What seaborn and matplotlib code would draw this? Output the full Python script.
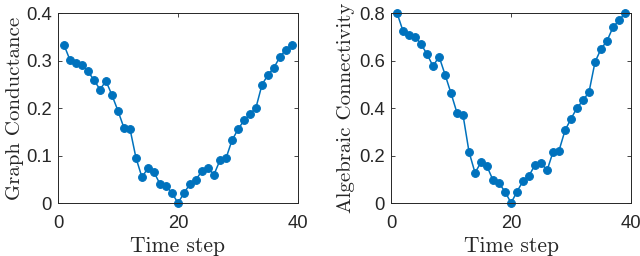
import numpy as np
import pandas as pd
import matplotlib
matplotlib.use("Agg")
import matplotlib.pyplot as plt
import seaborn as sns

time_step = list(range(1, 40))
conductance = [0.333, 0.301, 0.294, 0.291, 0.277, 0.259, 0.239, 0.257, 0.227, 0.194,
               0.158, 0.156, 0.095, 0.054, 0.074, 0.065, 0.040, 0.036, 0.021, 0.0,
               0.021, 0.040, 0.049, 0.068, 0.073, 0.060, 0.090, 0.094, 0.132, 0.155,
               0.174, 0.187, 0.201, 0.249, 0.270, 0.285, 0.308, 0.323, 0.333]
connectivity = [0.800, 0.724, 0.707, 0.701, 0.669, 0.627, 0.576, 0.617, 0.541, 0.462,
                0.379, 0.370, 0.215, 0.127, 0.172, 0.154, 0.096, 0.083, 0.048, 0.0,
                0.048, 0.093, 0.115, 0.161, 0.169, 0.137, 0.215, 0.221, 0.306, 0.355,
                0.401, 0.432, 0.468, 0.594, 0.649, 0.683, 0.741, 0.769, 0.800]

x_ticks = [0, 20, 40]
left_yticks = [0, 0.1, 0.2, 0.3, 0.4]
left_ylabels = ["0", "0.1", "0.2", "0.3", "0.4"]
right_yticks = [0, 0.2, 0.4, 0.6, 0.8]
right_ylabels = ["0", "0.2", "0.4", "0.6", "0.8"]

df = pd.DataFrame({"t": time_step, "cond": conductance, "conn": connectivity})

sns.set_style("ticks")
plt.rcParams["font.family"] = ["Liberation Sans", "DejaVu Sans"]

color = "#0072BD"
fig = plt.figure(figsize=(6.4, 2.56), dpi=100)
ax1 = fig.add_axes([0.0906, 0.207, 0.375, 0.742])
ax2 = fig.add_axes([0.611, 0.207, 0.375, 0.742])

specs = [
    (ax1, "cond", "Graph Conductance", (0, 0.4), left_yticks, left_ylabels, 1.0),
    (ax2, "conn", "Algebraic Connectivity", (0, 0.8), right_yticks, right_ylabels, 2.5),
]
for ax, col, ylab, ylim, yt, ytl, ylp in specs:
    sns.lineplot(data=df, x="t", y=col, ax=ax, color=color, marker="o",
                 markersize=5.6, markeredgecolor=color, linewidth=1.1)
    ax.set_xlim(0, 40)
    ax.set_ylim(*ylim)
    ax.set_xticks(x_ticks)
    ax.set_xticklabels([str(v) for v in x_ticks])
    ax.set_yticks(yt)
    ax.set_yticklabels(ytl)
    ax.tick_params(direction="in", length=3, width=0.6, labelsize=13.3,
                   top=True, right=True, colors="#262626", labelcolor="#262626")
    ax.tick_params(axis="x", pad=8.5)
    ax.tick_params(axis="y", pad=4.5)
    for s in ax.spines.values():
        s.set_visible(True)
        s.set_linewidth(0.7)
        s.set_color("#262626")
    ax.set_xlabel("Time step", fontfamily="cmr10", fontsize=15.5, labelpad=3.5)
    ax.set_ylabel(ylab, fontfamily="cmr10", fontsize=15, labelpad=ylp)
    for m in ax.lines:
        m.set_clip_on(False)

fig.savefig("out.png", dpi=100)
